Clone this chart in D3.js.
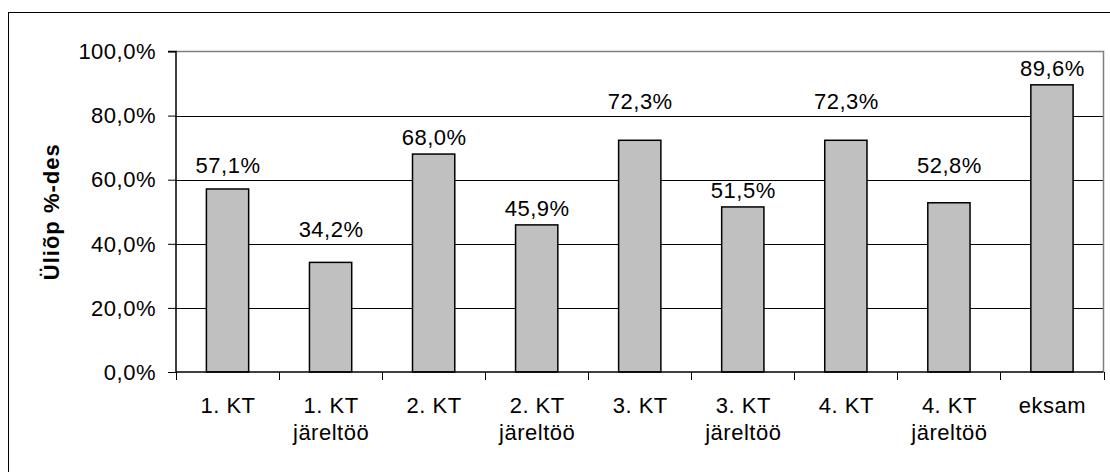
<!DOCTYPE html>
<html>
<head>
<meta charset="utf-8">
<script src="https://cdn.jsdelivr.net/npm/d3@7/dist/d3.min.js"></script>
<style>
  html, body { margin: 0; padding: 0; background: #fff; }
  svg { display: block; }
  text { font-family: "Liberation Sans", Arial, sans-serif; fill: #000; }
</style>
</head>
<body>
<svg id="chart" width="1110" height="472"></svg>
<script>
const categories = [
  ["1. KT"], ["1. KT", "järeltöö"], ["2. KT"], ["2. KT", "järeltöö"],
  ["3. KT"], ["3. KT", "järeltöö"], ["4. KT"], ["4. KT", "järeltöö"], ["eksam"]
];
const values = [57.1, 34.2, 68.0, 45.9, 72.3, 51.5, 72.3, 52.8, 89.6];
const valueLabels = ["57,1%", "34,2%", "68,0%", "45,9%", "72,3%", "51,5%", "72,3%", "52,8%", "89,6%"];
const yTicks = [0, 20, 40, 60, 80, 100];
const yTickLabels = ["0,0%", "20,0%", "40,0%", "60,0%", "80,0%", "100,0%"];
const yTitle = "Üliõp %-des";

(function () {
const svg = d3.select("#chart");
const pL = 176, pR = 1103.5, pT = 51.5, pB = 372;
const FS = 22, LS = 0.5;

const keys = categories.map((c, i) => i);
const x = d3.scaleBand().domain(keys).range([pL, pR]).padding(0);
const y = d3.scaleLinear().domain([0, 100]).range([pB, pT]);

// outer frame
svg.append("rect")
  .attr("x", 8.5).attr("y", 12.5)
  .attr("width", 1120).attr("height", 480)
  .attr("fill", "#fff").attr("stroke", "#000").attr("stroke-width", 1);

// gridlines
const grid = yTicks.filter(t => t > 0 && t < 100);
svg.append("g").selectAll("line")
  .data(grid)
  .join("line")
  .attr("x1", pL).attr("x2", pR)
  .attr("y1", d => Math.round(y(d)) + 0.5).attr("y2", d => Math.round(y(d)) + 0.5)
  .attr("stroke", "#000").attr("stroke-width", 1);

// plot border (top & right gray)
svg.append("path")
  .attr("d", `M${pL},${y(100)}H${pR}V${pB}`)
  .attr("fill", "none").attr("stroke", "#808080").attr("stroke-width", 1.5);

// bars
const bw = x.bandwidth() * 0.41;
svg.append("g").selectAll("rect")
  .data(values)
  .join("rect")
  .attr("x", (d, i) => x(i) + x.bandwidth() / 2 - bw / 2)
  .attr("y", d => y(d))
  .attr("width", bw)
  .attr("height", d => y(0) - y(d))
  .attr("fill", "#c0c0c0")
  .attr("stroke", "#000")
  .attr("stroke-width", 1.5);

// value labels: sit just above the bar, lifted above a gridline if they would cross it
function labelBaseline(v) {
  let b = y(v) - 9;
  grid.forEach(g => {
    const gy = y(g);
    if (gy > b - 17 && gy < b + 2) b = gy - 6.5;
  });
  return b;
}
svg.append("g").selectAll("text")
  .data(values)
  .join("text")
  .attr("x", (d, i) => x(i) + x.bandwidth() / 2 + 0.5)
  .attr("y", d => labelBaseline(d))
  .attr("text-anchor", "middle")
  .attr("font-size", FS)
  .attr("letter-spacing", LS)
  .text((d, i) => valueLabels[i]);

// y axis
const yAxis = d3.axisLeft(y)
  .tickValues(yTicks)
  .tickSize(8)
  .tickPadding(12)
  .tickFormat((d, i) => yTickLabels[i]);
const gy = svg.append("g").attr("transform", `translate(${pL},0)`).call(yAxis);
gy.select(".domain").attr("stroke", "#000").attr("stroke-width", 1.5).attr("d", `M-8,${pT}H0V${pB}`);
gy.selectAll(".tick line").attr("stroke", "#000").attr("stroke-width", 1);
gy.selectAll(".tick text")
  .attr("font-family", "Liberation Sans, Arial, sans-serif")
  .attr("font-size", FS)
  .attr("letter-spacing", LS)
  .attr("fill", "#000")
  .attr("dy", "0.33em");

// x axis
const xEdges = d3.scaleLinear().domain([0, categories.length]).range([pL, pR]);
const gx = svg.append("g");
gx.selectAll("line")
  .data(d3.range(categories.length + 1))
  .join("line")
  .attr("x1", d => Math.round(xEdges(d)) + 0.5).attr("x2", d => Math.round(xEdges(d)) + 0.5)
  .attr("y1", pB).attr("y2", pB + 8)
  .attr("stroke", "#000").attr("stroke-width", 1);
gx.append("line")
  .attr("x1", pL).attr("x2", pR)
  .attr("y1", pB).attr("y2", pB)
  .attr("stroke", "#000").attr("stroke-width", 1.5);

const catText = svg.append("g").selectAll("text")
  .data(categories)
  .join("text")
  .attr("text-anchor", "middle")
  .attr("font-size", FS)
  .attr("letter-spacing", LS);
catText.each(function(lines, i) {
  const t = d3.select(this);
  lines.forEach((ln, j) => {
    t.append("tspan")
      .attr("x", x(i) + x.bandwidth() / 2 + 0.5)
      .attr("y", 413 + j * 27)
      .text(ln);
  });
});

// y title
svg.append("text")
  .attr("transform", `translate(59, ${(pT + pB) / 2}) rotate(-90)`)
  .attr("text-anchor", "middle")
  .attr("font-size", 22)
  .attr("font-weight", "bold")
  .attr("letter-spacing", 1)
  .text(yTitle);
})();
</script>
</body>
</html>
